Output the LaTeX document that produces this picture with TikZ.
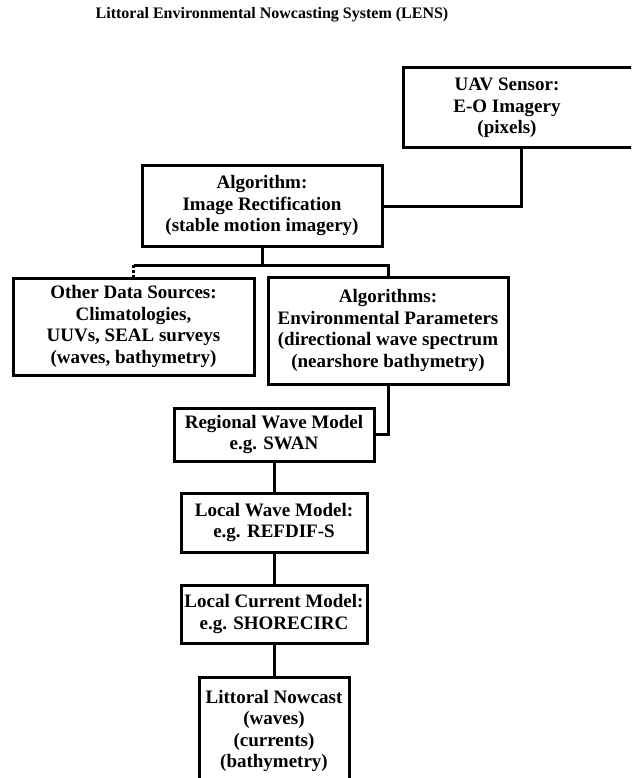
\documentclass[tikz,border=0pt]{standalone}
\usepackage{fontspec}
\setmainfont{Liberation Serif}

\tikzset{
	box/.style={draw, line width=3pt, inner sep=1pt, align=center, font=\bfseries\fontsize{19}{21.5}\selectfont},
	boxtext/.style={align=center, inner sep=0pt, font=\bfseries\fontsize{19}{21.5}\selectfont},
	link/.style={line width=3pt},
	headline/.style={font=\bfseries\fontsize{16}{18}\selectfont}
}

\begin{document}
\begin{tikzpicture}
	[x=1pt,y=-1pt]

	\useasboundingbox (0,0) rectangle (631,778);
	\clip (0,0) rectangle (631,778);

	\node[headline] (title) at (272,15) {Littoral Environmental Nowcasting System (LENS)};

	% sensor box runs off the right edge
	\node[box, minimum width=236pt, minimum height=80pt,
		label={[boxtext, xshift=-14pt]center:{UAV Sensor:\\E-O Imagery\\(pixels)}}] (uav) at (521,108) {};

	\node[box, minimum width=240pt, minimum height=80pt] (rect) at (262,206)
		{Algorithm:\\Image Rectification\\(stable motion imagery)};

	\node[box, minimum width=241pt, minimum height=97pt] (other) at (133.5,326.5)
		{Other Data Sources:\\Climatologies,\\UUVs, SEAL surveys\\(waves, bathymetry)};
	\node[box, minimum width=240pt, minimum height=107pt] (algs) at (388,330.5)
		{Algorithms:\\Environmental Parameters\\(directional wave spectrum\\(nearshore bathymetry)};

	\node[box, minimum width=200pt, minimum height=53pt] (regional) at (274,434.5)
		{Regional Wave Model\\e.g. SWAN};
	\node[box, minimum width=186pt, minimum height=59pt] (localwave) at (274,522.5)
		{Local Wave Model:\\e.g. REFDIF-S};
	\node[box, minimum width=186pt, minimum height=58pt] (localcur) at (274,614)
		{Local Current Model:\\e.g. SHORECIRC};
	% nowcast box runs off the bottom edge
	\node[box, minimum width=150pt, minimum height=108pt] (nowcast) at (274,731)
		{Littoral Nowcast\\(waves)\\(currents)\\(bathymetry)};

	\coordinate (split) at (262,265);

	\draw[link] (rect.east) -| (uav.south);
	\draw[link] (rect.south) -- (split);
	\draw[link] (split -| other.north) -- (split) -| (algs.north);
	\draw[link, dotted] (split -| other.north) -- (other.north);
	\draw[link] (algs.south) |- (regional.east);
	\draw[link] (regional.south) -- (localwave.north);
	\draw[link] (localwave.south) -- (localcur.north);
	\draw[link] (localcur.south) -- (nowcast.north);

\end{tikzpicture}
\end{document}
